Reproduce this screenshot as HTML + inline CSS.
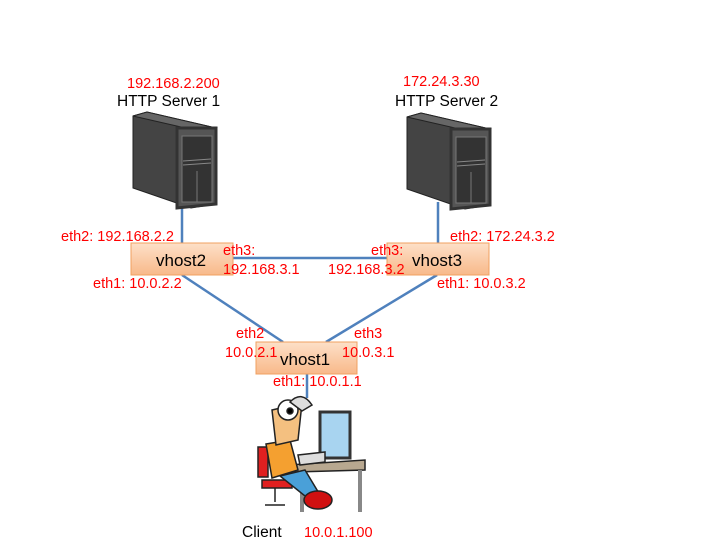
<!DOCTYPE html>
<html><head><style>
body{margin:0;background:#fff;width:720px;height:540px;overflow:hidden}
svg text{font-family:"Liberation Sans",sans-serif}
.r{fill:#f00;font-size:14.5px}
.k{fill:#000;font-size:15.5px}
</style></head><body>
<svg width="720" height="540" xmlns="http://www.w3.org/2000/svg">
<defs>
<linearGradient id="g" x1="0" y1="0" x2="0" y2="1">
<stop offset="0" stop-color="#fde0c8"/><stop offset="1" stop-color="#f8b98a"/></linearGradient>
<g id="srv">
<polygon points="0,0 14,-4 83,12 83,88 58,92 0,72" fill="#444" stroke="#222"/>
<polygon points="0,0 14,-4 83,12 70,16" fill="#666" stroke="#222"/>
<polygon points="44,12 83,12 83,88 44,92" fill="#555" stroke="#333" stroke-width="3"/>
<rect x="49" y="20" width="30" height="66" fill="#333" stroke="#777"/>
<line x1="50" y1="45" x2="78" y2="43" stroke="#888"/>
<line x1="50" y1="49" x2="78" y2="47" stroke="#888"/>
<line x1="64" y1="55" x2="64" y2="86" stroke="#777"/>
</g>
</defs>
<g stroke="#4f81bd" stroke-width="2.5" fill="none">
<line x1="182" y1="202" x2="182" y2="243"/>
<line x1="438" y1="202" x2="438" y2="243"/>
<line x1="233" y1="258" x2="387" y2="258"/>
<line x1="182" y1="275" x2="283" y2="342"/>
<line x1="437" y1="275" x2="326" y2="342"/>
<line x1="307" y1="374" x2="307" y2="398"/>
</g>
<use href="#srv" x="133" y="116"/>
<use href="#srv" x="407" y="117"/>
<rect x="131" y="243" width="102" height="32" fill="url(#g)" stroke="#f0a060"/>
<rect x="387" y="243" width="102" height="32" fill="url(#g)" stroke="#f0a060"/>
<rect x="256" y="342" width="101" height="32" fill="url(#g)" stroke="#f0a060"/>
<text class="k" x="156" y="266" style="font-size:17px">vhost2</text>
<text class="k" x="412" y="266" style="font-size:17px">vhost3</text>
<text class="k" x="280" y="365" style="font-size:17px">vhost1</text>
<text class="r" x="127" y="88">192.168.2.200</text>
<text class="k" x="117" y="106">HTTP Server 1</text>
<text class="r" x="403" y="86">172.24.3.30</text>
<text class="k" x="395" y="106">HTTP Server 2</text>
<text class="r" x="61" y="241">eth2: 192.168.2.2</text>
<text class="r" x="223" y="255">eth3:</text>
<text class="r" x="223" y="274">192.168.3.1</text>
<text class="r" x="371" y="255">eth3:</text>
<text class="r" x="328" y="274">192.168.3.2</text>
<text class="r" x="450" y="241">eth2: 172.24.3.2</text>
<text class="r" x="93" y="288">eth1: 10.0.2.2</text>
<text class="r" x="437" y="288">eth1: 10.0.3.2</text>
<text class="r" x="236" y="338">eth2</text>
<text class="r" x="225" y="357">10.0.2.1</text>
<text class="r" x="354" y="338">eth3</text>
<text class="r" x="342" y="357">10.0.3.1</text>
<text class="r" x="273" y="386">eth1: 10.0.1.1</text>
<text class="k" x="242" y="537">Client</text>
<text class="r" x="304" y="537">10.0.1.100</text>
<g stroke="#222" stroke-width="1.5">
<rect x="320" y="412" width="30" height="46" fill="#a8d4f0" stroke="#333" stroke-width="3"/>
<polygon points="288,465 365,460 365,470 295,472" fill="#b8a890"/>
<line x1="302" y1="472" x2="302" y2="512" stroke="#888" stroke-width="4"/>
<line x1="360" y1="470" x2="360" y2="512" stroke="#888" stroke-width="4"/>
<rect x="258" y="447" width="10" height="30" fill="#e02020"/>
<rect x="262" y="480" width="30" height="8" fill="#e02020"/>
<line x1="275" y1="488" x2="275" y2="502"/>
<line x1="265" y1="505" x2="285" y2="505"/>
<polygon points="266,444 290,440 298,470 272,478" fill="#f4a030"/>
<polygon points="280,476 305,470 320,495 310,500" fill="#4aa0d8"/>
<ellipse cx="318" cy="500" rx="14" ry="9" fill="#d01010"/>
<polygon points="272,410 302,403 298,440 276,445" fill="#f4c080"/>
<circle cx="288" cy="410" r="10" fill="#fff"/>
<circle cx="290" cy="411" r="3" fill="#000"/>
<path d="M290 402 q12 -12 22 3 l-10 6z" fill="#ddd"/>
<polygon points="298,455 325,452 325,462 300,465" fill="#ddd"/>
</g>
</svg>
</body></html>
